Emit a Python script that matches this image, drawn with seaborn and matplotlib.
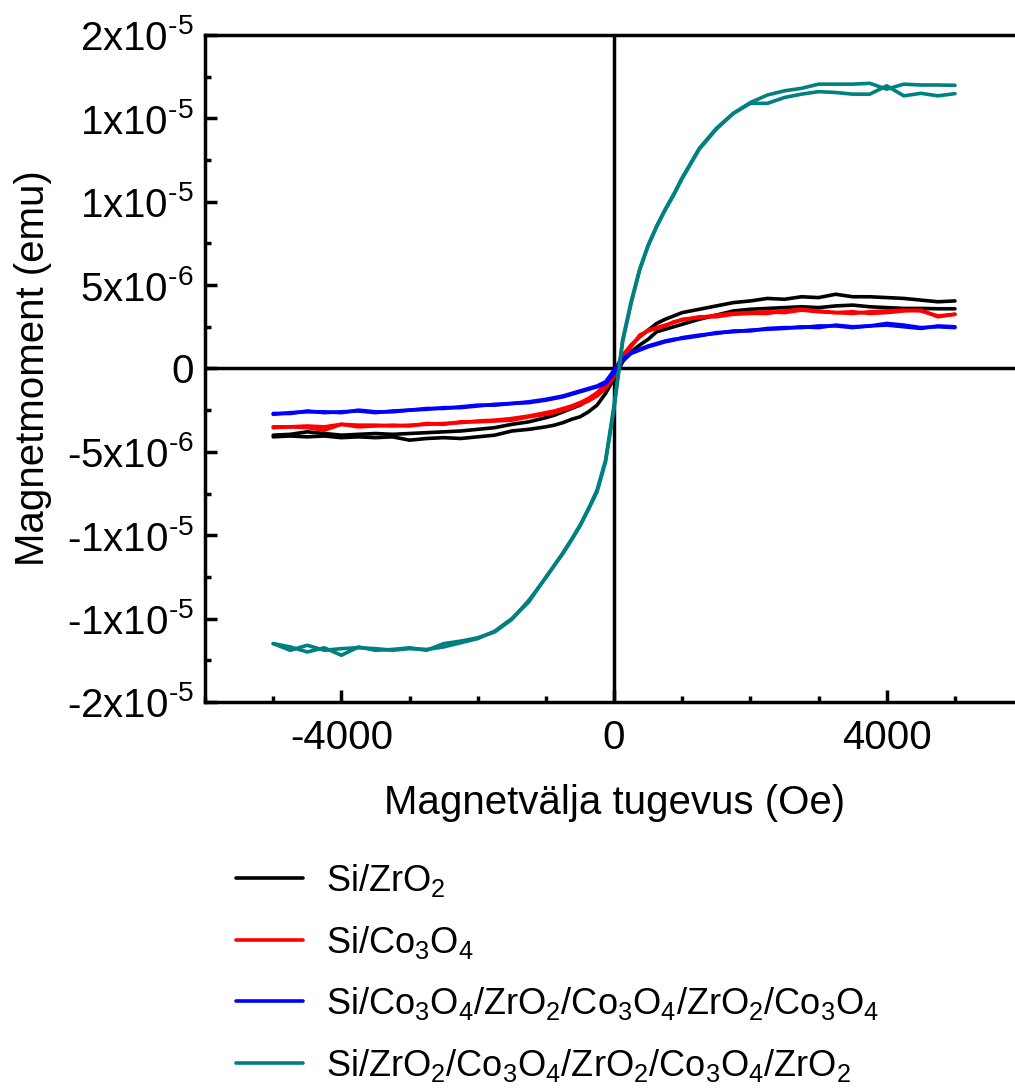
import pandas as pd
import seaborn as sns
import matplotlib.pyplot as plt
from matplotlib.lines import Line2D
from matplotlib.ticker import MultipleLocator

# magnetic field grid (Oe)
H = [-5000, -4750, -4500, -4250, -4000, -3750, -3500, -3250, -3000, -2750,
     -2500, -2250, -2000, -1750, -1500, -1250, -1000, -875, -750, -625,
     -500, -375, -250, -125, 0, 125, 250, 375, 500, 625,
     750, 875, 1000, 1250, 1500, 1750, 2000, 2250, 2500, 2750,
     3000, 3250, 3500, 3750, 4000, 4250, 4500, 4750, 5000]

# moments in 1e-6 emu, two branches of each loop
zro2_a = [-4.0, -3.95, -3.8, -3.9, -4.0, -3.95, -3.9, -3.95, -3.9, -3.85,
          -3.8, -3.75, -3.65, -3.55, -3.35, -3.2, -2.95, -2.8, -2.6, -2.4,
          -2.2, -1.9, -1.6, -1.1, -0.2, 0.7, 1.4, 1.9, 2.3, 2.7,
          2.95, 3.15, 3.35, 3.55, 3.75, 3.95, 4.05, 4.2, 4.15, 4.3,
          4.25, 4.45, 4.3, 4.3, 4.25, 4.2, 4.1, 4.0, 4.05]
zro2_b = [-4.1, -4.05, -4.1, -4.05, -4.15, -4.1, -4.15, -4.1, -4.3, -4.2,
          -4.15, -4.2, -4.1, -4.0, -3.75, -3.65, -3.5, -3.4, -3.25, -3.05,
          -2.9, -2.6, -2.2, -1.5, -0.6, 0.4, 1.0, 1.4, 1.75, 2.2,
          2.35, 2.5, 2.65, 2.95, 3.2, 3.45, 3.55, 3.6, 3.65, 3.7,
          3.65, 3.75, 3.8, 3.7, 3.65, 3.6, 3.6, 3.58, 3.58]

co3o4_a = [-3.5, -3.5, -3.45, -3.5, -3.35, -3.4, -3.4, -3.45, -3.4, -3.35,
           -3.3, -3.25, -3.15, -3.1, -3.0, -2.85, -2.65, -2.55, -2.4, -2.25,
           -2.05, -1.8, -1.45, -0.95, -0.2, 0.8, 1.4, 1.9, 2.3, 2.45,
           2.6, 2.75, 2.95, 3.05, 3.2, 3.3, 3.35, 3.4, 3.35, 3.5,
           3.4, 3.35, 3.4, 3.3, 3.35, 3.45, 3.5, 3.1, 3.25]
co3o4_b = [-3.55, -3.5, -3.55, -3.7, -3.35, -3.5, -3.45, -3.4, -3.45, -3.3,
           -3.35, -3.2, -3.2, -3.15, -3.1, -2.9, -2.75, -2.65, -2.5, -2.35,
           -2.15, -1.95, -1.65, -1.2, -0.5, 0.6, 1.3, 2.0, 2.25, 2.4,
           2.55, 2.8, 2.9, 3.1, 3.1, 3.25, 3.3, 3.3, 3.45, 3.55,
           3.45, 3.35, 3.3, 3.4, 3.45, 3.5, 3.45, 3.15, 3.25]

multi_co_a = [-2.7, -2.7, -2.55, -2.65, -2.6, -2.55, -2.65, -2.55, -2.5, -2.45,
              -2.35, -2.35, -2.25, -2.15, -2.1, -2.0, -1.85, -1.75, -1.65, -1.5,
              -1.35, -1.2, -1.05, -0.8, -0.1, 0.55, 0.95, 1.15, 1.35, 1.5,
              1.65, 1.75, 1.8, 1.95, 2.15, 2.2, 2.3, 2.35, 2.4, 2.5,
              2.45, 2.6, 2.5, 2.55, 2.6, 2.5, 2.4, 2.55, 2.5]
multi_co_b = [-2.75, -2.65, -2.6, -2.6, -2.65, -2.5, -2.6, -2.6, -2.5, -2.4,
              -2.4, -2.3, -2.2, -2.2, -2.1, -2.05, -1.9, -1.8, -1.7, -1.55,
              -1.4, -1.25, -1.1, -0.9, -0.3, 0.45, 0.9, 1.1, 1.3, 1.45,
              1.6, 1.7, 1.85, 2.0, 2.1, 2.25, 2.25, 2.4, 2.45, 2.45,
              2.55, 2.55, 2.45, 2.55, 2.7, 2.6, 2.45, 2.5, 2.45]

multi_zr_a = [-16.5, -16.9, -16.6, -16.9, -16.8, -16.75, -16.8, -16.9, -16.8, -16.85,
              -16.7, -16.45, -16.2, -15.75, -15.0, -14.0, -12.5, -11.8, -11.05, -10.25,
              -9.4, -8.4, -7.3, -5.5, -2.2, 1.7, 4.0, 5.95, 7.4, 8.55,
              9.55, 10.45, 11.45, 13.2, 14.4, 15.3, 15.95, 16.4, 16.65, 16.8,
              17.05, 17.05, 17.05, 17.1, 16.75, 17.05, 17.0, 17.0, 16.98]
multi_zr_b = [-16.5, -16.7, -17.0, -16.75, -17.2, -16.7, -16.9, -16.85, -16.75, -16.9,
              -16.5, -16.35, -16.15, -15.8, -15.05, -13.9, -12.55, -11.8, -11.1, -10.3,
              -9.45, -8.45, -7.4, -5.6, -2.4, 1.6, 3.9, 5.9, 7.35, 8.5,
              9.5, 10.4, 11.4, 13.15, 14.35, 15.3, 15.9, 15.9, 16.25, 16.45,
              16.6, 16.55, 16.45, 16.45, 16.95, 16.35, 16.5, 16.35, 16.48]

samples = ["Si/ZrO$_2$",
           "Si/Co$_3$O$_4$",
           "Si/Co$_3$O$_4$/ZrO$_2$/Co$_3$O$_4$/ZrO$_2$/Co$_3$O$_4$",
           "Si/ZrO$_2$/Co$_3$O$_4$/ZrO$_2$/Co$_3$O$_4$/ZrO$_2$"]
colors = ["black", "#ff0000", "#0000ff", "#008080"]
branches = [(zro2_a, zro2_b), (co3o4_a, co3o4_b),
            (multi_co_a, multi_co_b), (multi_zr_a, multi_zr_b)]

rows = []
for name, (a, b) in zip(samples, branches):
    for br, vals in (("a", a), ("b", b)):
        for h, m in zip(H, vals):
            rows.append({"sample": name, "branch": br, "H": h, "M": m * 1e-6})
df = pd.DataFrame(rows)

sns.set_style("ticks")
plt.rcParams["font.family"] = ["Liberation Sans", "DejaVu Sans"]
plt.rcParams["mathtext.fontset"] = "custom"
plt.rcParams["mathtext.rm"] = "Liberation Sans"
plt.rcParams["mathtext.it"] = "Liberation Sans:italic"
plt.rcParams["mathtext.bf"] = "Liberation Sans:bold"
for key in ["text.color", "axes.labelcolor", "xtick.color", "ytick.color", "axes.edgecolor"]:
    plt.rcParams[key] = "black"

fig = plt.figure(figsize=(10.15, 10.89), dpi=100)
ax = fig.add_axes([0.202, 0.3554, 0.806, 0.6125])

ax.axhline(0, color="black", lw=2.5, zorder=1.5)
ax.axvline(0, color="black", lw=2.5, zorder=1.5)

sns.lineplot(data=df, x="H", y="M", hue="sample", units="branch",
             estimator=None, sort=False, palette=colors, hue_order=samples,
             linewidth=2.6, legend=False, ax=ax)

ax.set_xlim(-6000, 6000)
ax.set_ylim(-2e-5, 2e-5)
ax.set_xticks([-4000, 0, 4000])
ax.set_xticklabels(["-4000", "0", "4000"])
ax.xaxis.set_minor_locator(MultipleLocator(1000))
yt = [-2e-5, -1.5e-5, -1e-5, -5e-6, 0, 5e-6, 1e-5, 1.5e-5, 2e-5]
ylabels = [r"-2x10$^{\text{-5}}$", r"-1x10$^{\text{-5}}$", r"-1x10$^{\text{-5}}$",
           r"-5x10$^{\text{-6}}$", "0", r"5x10$^{\text{-6}}$", r"1x10$^{\text{-5}}$",
           r"1x10$^{\text{-5}}$", r"2x10$^{\text{-5}}$"]
ax.set_yticks(yt)
ax.set_yticklabels(ylabels)
ax.yaxis.set_minor_locator(MultipleLocator(2.5e-6))

ax.tick_params(which="both", direction="in", width=2.5, labelsize=29,
               top=False, right=False, pad=8)
ax.tick_params(axis="x", pad=12)
ax.tick_params(which="major", length=8.5)
ax.tick_params(which="minor", length=4.3)
for sp in ax.spines.values():
    sp.set_linewidth(2.5)
ax.spines["right"].set_visible(False)

ax.set_xlabel("Magnetvälja tugevus (Oe)", fontsize=29, labelpad=20)
ax.set_ylabel("Magnetmoment (emu)", fontsize=29, labelpad=11)

handles = [Line2D([], [], color=c, lw=2.6) for c in colors]
fig.legend(handles, samples, loc="upper left",
           bbox_to_anchor=(236 / 1015, 1 - 862 / 1089), frameon=False,
           fontsize=26, handlelength=1.85, handletextpad=0.65,
           labelspacing=0.68, borderaxespad=0, borderpad=0)

fig.savefig("out.png", dpi=100)
